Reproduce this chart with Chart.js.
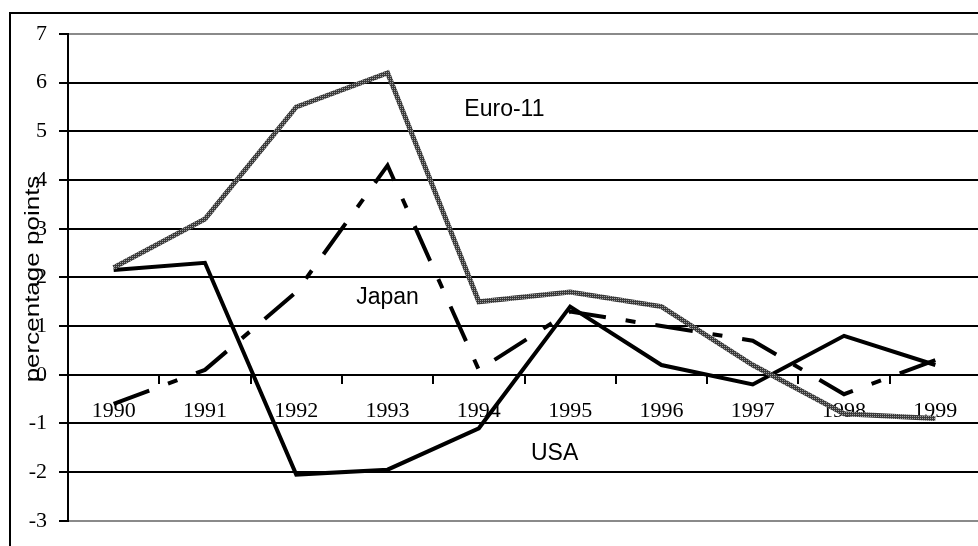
<!DOCTYPE html>
<html lang="en">
<head>
<meta charset="UTF-8">
<title>percentage points</title>
<script src="https://cdn.jsdelivr.net/npm/chart.js@4"></script>
<style>
    html, body { margin: 0; padding: 0; background: #fff; overflow: hidden; }
    #wrap { width: 990px; height: 546px; }
</style>
</head>
<body>
<div id="wrap"><canvas id="chart" width="990" height="546"></canvas></div>
<script>
// data
const years = ['1990', '1991', '1992', '1993', '1994', '1995', '1996', '1997', '1998', '1999'];
const euro11 = [2.2, 3.2, 5.5, 6.2, 1.5, 1.7, 1.4, 0.2, -0.8, -0.9];
const japan = [-0.6, 0.1, 1.7, 4.3, 0.1, 1.3, 1.0, 0.7, -0.4, 0.3];
const usa = [2.15, 2.3, -2.05, -1.95, -1.1, 1.4, 0.2, -0.2, 0.8, 0.2];
const yMin = -3;
const yMax = 7;
const yTitle = 'percentage points';

// grey speckled texture for the Euro-11 line
function speckle() {
    const c = document.createElement('canvas');
    c.width = 2; c.height = 2;
    const g = c.getContext('2d');
    g.fillStyle = '#3a3a3a'; g.fillRect(0, 0, 2, 2);
    g.fillStyle = '#a0a0a0'; g.fillRect(0, 0, 1, 1);
    return g.createPattern(c, 'repeat');
}

// frame, axis title and series names
const decor = {
    id: 'decor',
    beforeDraw(chart) {
        const ctx = chart.ctx;
        ctx.save();
        ctx.strokeStyle = '#000';
        ctx.lineWidth = 2;
        ctx.beginPath();
        ctx.moveTo(10, 546); ctx.lineTo(10, 13); ctx.lineTo(990, 13);
        ctx.stroke();
        ctx.restore();
    },
    afterDraw(chart) {
        const ctx = chart.ctx;
        const x = chart.scales.x, y = chart.scales.y;
        ctx.save();
        ctx.fillStyle = '#000';
        ctx.textAlign = 'center';
        ctx.textBaseline = 'alphabetic';
        ctx.font = '23px "Liberation Sans", Arial, sans-serif';
        ctx.fillText('Euro-11', x.getPixelForValue(4.28), y.getPixelForValue(5.31));
        ctx.fillText('Japan', x.getPixelForValue(3.0), y.getPixelForValue(1.45));
        ctx.fillText('USA', x.getPixelForValue(4.83), y.getPixelForValue(-1.76));

        ctx.translate(39, 279);
        ctx.rotate(-Math.PI / 2);
        ctx.scale(1.3, 1);
        ctx.font = '20px "Liberation Sans", Arial, sans-serif';
        ctx.fillText(yTitle, 0, 0);
        ctx.restore();
    }
};

const serif = { family: '"Liberation Serif", "Times New Roman", serif', size: 22 };

new Chart(document.getElementById('chart'), {
    type: 'line',
    data: {
        labels: years,
        datasets: [
            { label: 'Euro-11', data: euro11, borderColor: speckle(), borderWidth: 5 },
            { label: 'Japan', data: japan, borderColor: '#000', borderWidth: 4, borderDash: [38, 20, 10, 20] },
            { label: 'USA', data: usa, borderColor: '#000', borderWidth: 4 }
        ]
    },
    options: {
        responsive: false,
        animation: false,
        devicePixelRatio: 1,
        layout: { padding: { top: 34, right: 9, bottom: 24, left: 0 } },
        elements: {
            point: { radius: 0, hoverRadius: 0 },
            line: { tension: 0, fill: false }
        },
        plugins: {
            legend: { display: false },
            tooltip: { enabled: false }
        },
        scales: {
            x: {
                type: 'category',
                position: { y: 0 },
                offset: true,
                grid: { drawOnChartArea: false, offset: true, tickLength: 8, color: '#000', lineWidth: 2 },
                border: { display: true, color: '#000', width: 2 },
                ticks: { font: serif, color: '#000', padding: 15, maxRotation: 0, autoSkip: false },
                afterFit(s) { s.height = 0; }
            },
            y: {
                min: yMin,
                max: yMax,
                ticks: { stepSize: 1, font: serif, color: '#000', padding: 12 },
                grid: {
                    color: c => (c.tick && (c.tick.value === yMin || c.tick.value === yMax)) ? '#8a8a8a' : '#000',
                    lineWidth: 2,
                    tickLength: 9,
                    tickColor: '#000'
                },
                border: { color: '#000', width: 2 },
                afterFit(s) { s.width = 68; }
            }
        }
    },
    plugins: [decor]
});
</script>
</body>
</html>
